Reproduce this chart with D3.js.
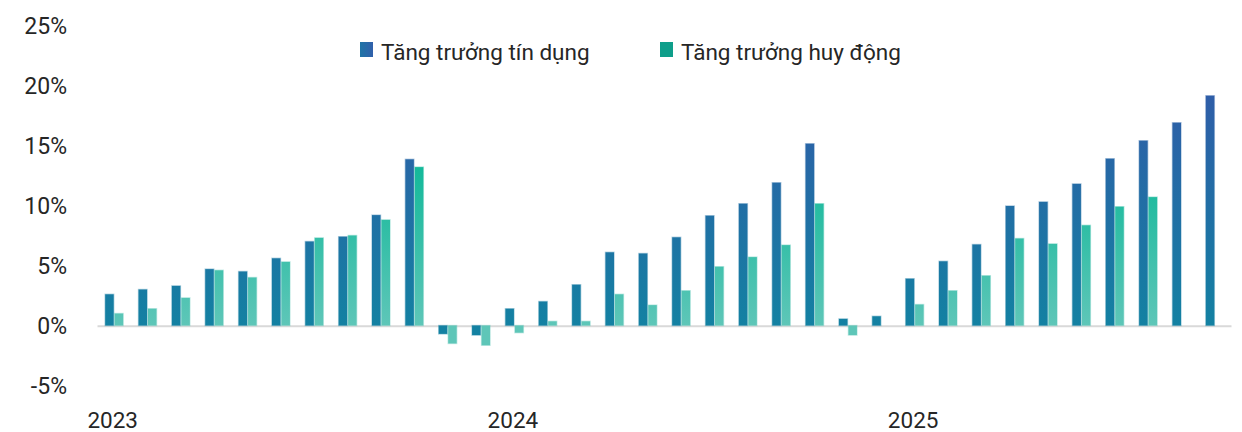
<!DOCTYPE html>
<html>
<head>
<meta charset="utf-8">
<script src="https://cdn.jsdelivr.net/npm/d3@7"></script>
<style>
  html, body { margin: 0; padding: 0; background: #fff; }
  svg { display: block; font-family: Roboto, "Noto Sans", sans-serif; }
</style>
</head>
<body>
<svg id="chart" width="1242" height="432"></svg>
<script>
// ---- Data ----
const categories = [
  "T3/2023","T4/2023","T5/2023","T6/2023","T7/2023","T8/2023","T9/2023","T10/2023","T11/2023","T12/2023",
  "T1/2024","T2/2024","T3/2024","T4/2024","T5/2024","T6/2024","T7/2024","T8/2024","T9/2024","T10/2024","T11/2024","T12/2024",
  "T1/2025","T2/2025","T3/2025","T4/2025","T5/2025","T6/2025","T7/2025","T8/2025","T9/2025","T10/2025","T11/2025","T12/2025"
];
const creditGrowth = [
  2.6, 3.0, 3.3, 4.7, 4.5, 5.6, 7.0, 7.4, 9.2, 13.85,
  -0.7, -0.8, 1.4, 2.0, 3.4, 6.1, 6.0, 7.35, 9.15, 10.15, 11.9, 15.15,
  0.55, 0.77, 3.9, 5.35, 6.75, 9.96, 10.3, 11.8, 13.9, 15.4, 16.9, 19.15
];
const depositGrowth = [
  1.0, 1.4, 2.3, 4.6, 4.0, 5.3, 7.3, 7.5, 8.8, 13.2,
  -1.5, -1.65, -0.6, 0.35, 0.35, 2.6, 1.7, 2.9, 4.9, 5.7, 6.7, 10.15,
  -0.8, null, 1.75, 2.9, 4.15, 7.25, 6.8, 8.35, 9.9, 10.7, null, null
];
const seriesNames = ["Tăng trưởng tín dụng", "Tăng trưởng huy động"];
const yTicks = [-5, 0, 5, 10, 15, 20, 25];
const xTickIndex = [0, 12, 24];
const xTickLabels = ["2023", "2024", "2025"];

// ---- Layout ----
const svg = d3.select("#chart");
const x = d3.scaleBand().domain(categories).range([97.5, 1231.5]).padding(0);
const y = d3.scaleLinear().domain([-5, 25]).range([385.5, 25.5]);
const x1 = d3.scaleBand().domain(["credit", "deposit"]).range([0, 18]).paddingInner(0.1);

const defs = svg.append("defs");
const gC = defs.append("linearGradient").attr("id", "gCredit")
  .attr("gradientUnits", "userSpaceOnUse").attr("x1", 0).attr("x2", 0)
  .attr("y1", y(0)).attr("y2", y(20));
gC.append("stop").attr("offset", "0%").attr("stop-color", "#1381a2");
gC.append("stop").attr("offset", "100%").attr("stop-color", "#305ca8");
const gD = defs.append("linearGradient").attr("id", "gDeposit")
  .attr("gradientUnits", "userSpaceOnUse").attr("x1", 0).attr("x2", 0)
  .attr("y1", y(0)).attr("y2", y(14));
gD.append("stop").attr("offset", "0%").attr("stop-color", "#5ec6b8");
gD.append("stop").attr("offset", "100%").attr("stop-color", "#0fb898");
const gL = defs.append("linearGradient").attr("id", "gLegend")
  .attr("x1", 0).attr("x2", 1).attr("y1", 0).attr("y2", 0);
gL.append("stop").attr("offset", "0%").attr("stop-color", "#1f74a6");
gL.append("stop").attr("offset", "100%").attr("stop-color", "#3160ab");

// y axis labels
const yAxis = d3.axisLeft(y).tickValues(yTicks).tickSize(0).tickPadding(0)
  .tickFormat(d => d + "%");
const gy = svg.append("g").attr("transform", "translate(67,0)").call(yAxis);
gy.select(".domain").remove();
gy.selectAll("text").attr("font-size", "23px").attr("fill", "#262626")
  .attr("font-family", "Roboto, sans-serif").attr("dy", "0.36em");

// x axis labels
const xAxis = d3.axisBottom(x).tickValues(xTickIndex.map(i => categories[i]))
  .tickSize(0).tickPadding(0)
  .tickFormat(d => xTickLabels[xTickIndex.indexOf(categories.indexOf(d))]);
const gx = svg.append("g").attr("transform", "translate(-1.5,0)").call(xAxis);
gx.select(".domain").remove();
gx.selectAll("text").attr("font-size", "22.5px").attr("fill", "#262626")
  .attr("font-family", "Roboto, sans-serif").attr("y", 427.5).attr("dy", 0);

// zero line
svg.append("line").attr("x1", 97.5).attr("x2", 1231.5)
  .attr("y1", y(0) + 0.8).attr("y2", y(0) + 0.8)
  .attr("stroke", "#d9d9d9").attr("stroke-width", 2);

// bars
const rows = categories.map((c, i) => ({ c, credit: creditGrowth[i], deposit: depositGrowth[i] }));
const groups = svg.append("g").selectAll("g").data(rows).join("g")
  .attr("transform", d => `translate(${x(d.c) + x.bandwidth() / 2 - 9},0)`);
groups.selectAll("rect")
  .data(d => ["credit", "deposit"].filter(k => d[k] !== null).map(k => ({ k, v: d[k] })))
  .join("rect")
  .attr("x", d => x1(d.k))
  .attr("width", x1.bandwidth())
  .attr("y", d => Math.min(y(d.v), y(0)))
  .attr("height", d => Math.abs(y(d.v) - y(0)))
  .attr("fill", d => d.k === "credit" ? "url(#gCredit)" : "url(#gDeposit)")
  .attr("stroke", d => d.k === "credit" ? "url(#gCredit)" : "url(#gDeposit)")
  .attr("stroke-opacity", 0.35).attr("stroke-width", 1.4);

// legend
const legend = svg.append("g");
const legendItems = [
  { name: seriesNames[0], fill: "url(#gLegend)", x: 360 },
  { name: seriesNames[1], fill: "#0e9e8a", x: 660 }
];
legendItems.forEach(it => {
  legend.append("rect").attr("x", it.x).attr("y", 42).attr("width", 13).attr("height", 15)
    .attr("fill", it.fill);
  legend.append("text").attr("x", it.x + 21).attr("y", 59.5).text(it.name)
    .attr("font-size", "22.5px").attr("fill", "#262626");
});
</script>
</body>
</html>
